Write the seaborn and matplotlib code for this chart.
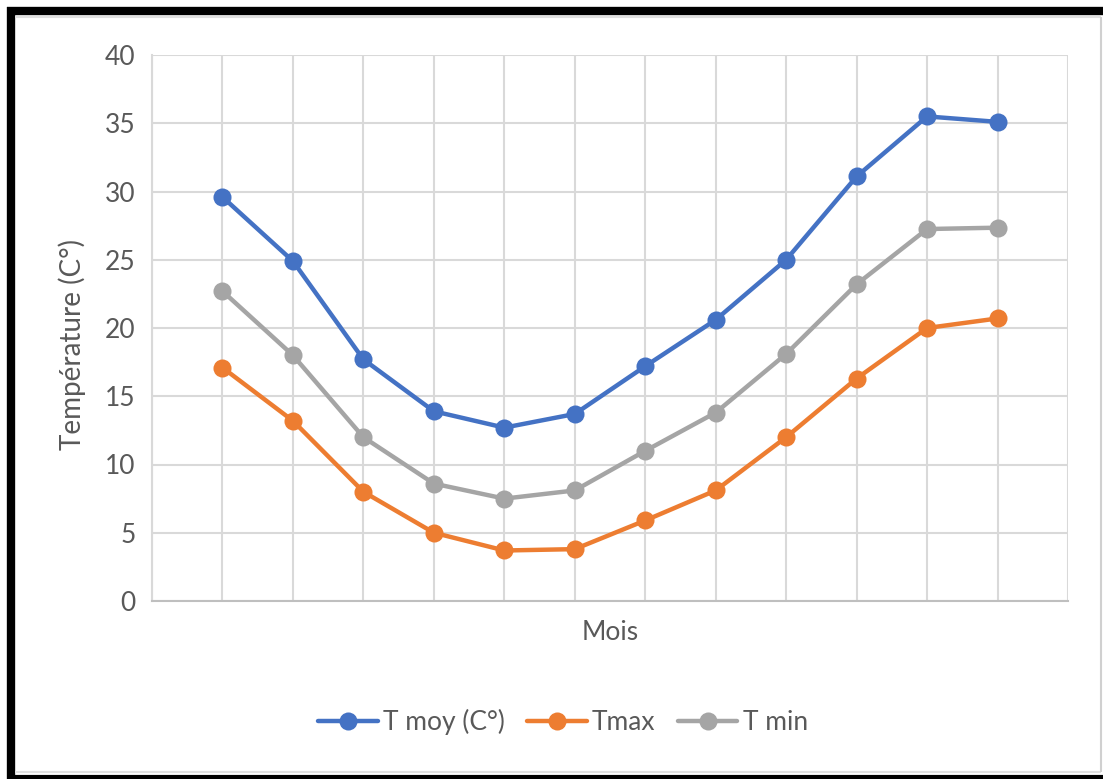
import matplotlib
matplotlib.use("Agg")
import matplotlib.pyplot as plt
from matplotlib.lines import Line2D
import seaborn as sns
import pandas as pd

# Monthly temperatures
mois = list(range(1, 13))
t_moy = [29.6, 24.9, 17.7, 13.9, 12.7, 13.7, 17.2, 20.6, 25.0, 31.1, 35.5, 35.1]
t_max = [17.1, 13.2, 8.0, 5.0, 3.7, 3.8, 5.9, 8.1, 12.0, 16.3, 20.0, 20.7]
t_min = [22.7, 18.0, 12.0, 8.6, 7.5, 8.1, 11.0, 13.8, 18.1, 23.2, 27.25, 27.35]
series_names = ["T moy (C°)", "Tmax", "T min"]
y_ticks = [0, 5, 10, 15, 20, 25, 30, 35, 40]

colors = ["#4472C4", "#ED7D31", "#A5A5A5"]
text_color = "#595959"
grid_color = "#D9D9D9"

df = pd.DataFrame({
    "Mois": mois * 3,
    "Temp": t_moy + t_max + t_min,
    "Serie": [series_names[0]] * 12 + [series_names[1]] * 12 + [series_names[2]] * 12,
})

sns.set_theme(style="white")
plt.rcParams["font.family"] = ["Lato", "DejaVu Sans"]

W, H = 1103, 779
fig = plt.figure(figsize=(W / 100, H / 100), dpi=100)
ax = fig.add_axes([152 / W, 1 - 601 / H, (1068 - 152) / W, (601 - 55) / H])

sns.lineplot(data=df, x="Mois", y="Temp", hue="Serie", hue_order=series_names,
             palette=colors, marker="o", markersize=13, linewidth=3.2,
             markeredgewidth=0, ax=ax, legend=False, zorder=3)

ax.set_xlim(0, 13)
ax.set_ylim(0, 40)
ax.set_xticks(range(0, 14))
ax.set_xticklabels([])
ax.set_yticks(y_ticks)
ax.set_yticklabels([str(v) for v in y_ticks], fontsize=19, color=text_color)
ax.tick_params(axis="y", length=0, pad=12)
ax.tick_params(axis="x", length=0)
ax.grid(True, color=grid_color, linewidth=1.5)
ax.set_axisbelow(True)
for side in ["top", "right"]:
    ax.spines[side].set_visible(False)
ax.spines["left"].set_color(grid_color)
ax.spines["left"].set_linewidth(1.5)
ax.spines["bottom"].set_color("#BFBFBF")
ax.spines["bottom"].set_linewidth(1.5)

ax.set_xlabel("Mois", fontsize=19, color=text_color, labelpad=10)
ax.set_ylabel("Température (C°)", fontsize=20, color=text_color)
ax.yaxis.set_label_coords((86 - 152) / (1068 - 152), (601 - 345) / (601 - 55))

handles = [Line2D([], [], color=c, linewidth=3.2, marker="o", markersize=13,
                  markeredgewidth=0) for c in colors]
fig.legend(handles, series_names, loc="center", bbox_to_anchor=(563 / W, 1 - 722 / H),
           ncol=3, frameon=False, fontsize=19, handlelength=2.25, handletextpad=0.2,
           columnspacing=0.85, labelcolor=text_color)

# Outer frame
def fline(x0, y0, x1, y1, color, lw):
    fig.add_artist(Line2D([x0 / W, x1 / W], [1 - y0 / H, 1 - y1 / H],
                          color=color, linewidth=lw, solid_capstyle="butt"))

fline(7, 11, W, 11, "black", 6)
fline(11, 7, 11, H, "black", 6)
fline(7, 777, W, 777, "black", 3)
fline(15, 17, 1101, 17, "#E0E0E0", 1.5)
fline(15, 772, 1101, 772, "#E0E0E0", 1.5)
fline(1101, 17, 1101, 772, "#D0D0D0", 1.5)

fig.savefig("out.png", dpi=100, facecolor="white")
